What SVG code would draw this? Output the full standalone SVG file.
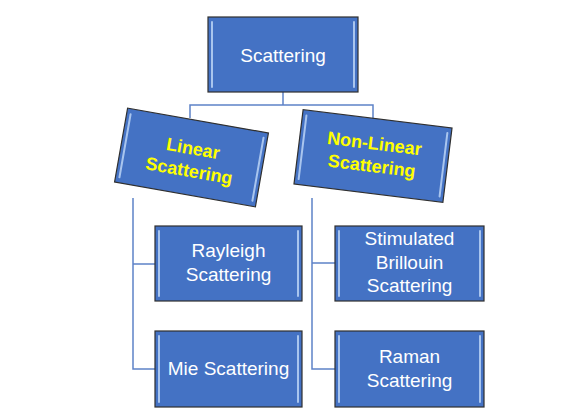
<svg xmlns="http://www.w3.org/2000/svg" width="587" height="417" viewBox="0 0 587 417">
<style>
.box{fill:#4472C4;stroke:#2F2F2F;stroke-width:1.2}
.hl{stroke:#A9C5EE;stroke-width:2;stroke-linecap:round;fill:none}
.t{font-family:"Liberation Sans","Open Sans",sans-serif;font-size:19px;fill:#FFFFFF;text-anchor:middle}
.y{font-family:"Liberation Sans","Open Sans",sans-serif;font-size:18px;font-weight:bold;fill:#FFFF00;text-anchor:middle}
.c{stroke:#5E82C8;stroke-width:1.5;fill:none}
</style>
<rect width="587" height="417" fill="#FFFFFF"/>
<g id="connectors">
<path class="c" d="M283,92 V105 M190,118 V105 H373 V120"/>
<path class="c" d="M133,198 V369 H155 M133,264 H155"/>
<path class="c" d="M312,198 V369 H335 M312,263 H335"/>
</g>
<g id="n-scattering">
<rect class="box" x="208" y="17" width="150" height="75"/>
<path class="hl" d="M212,22 V87 M354,22 V87"/>
<text class="t" x="283" y="62">Scattering</text>
</g>
<g id="n-linear" transform="translate(191.5,157.5) rotate(10)">
<rect class="box" x="-71.5" y="-37.5" width="143" height="75"/>
<path class="hl" d="M-67.5,-32 V32 M67.5,-32 V32"/>
<text class="y" x="0" y="-3">Linear</text>
<text class="y" x="0" y="19.5">Scattering</text>
</g>
<g id="n-nonlinear" transform="translate(373,156) rotate(7)">
<rect class="box" x="-75" y="-37.5" width="150" height="75"/>
<path class="hl" d="M-71,-32 V32 M71,-32 V32"/>
<text class="y" x="0" y="-6.5">Non-Linear</text>
<text class="y" x="0" y="16">Scattering</text>
</g>
<g id="n-rayleigh">
<rect class="box" x="155" y="226" width="147" height="75"/>
<path class="hl" d="M159,231 V296 M298,231 V296"/>
<text class="t" x="228.5" y="257">Rayleigh</text>
<text class="t" x="228.5" y="280.5">Scattering</text>
</g>
<g id="n-mie">
<rect class="box" x="155" y="331" width="147" height="76"/>
<path class="hl" d="M159,336 V402 M298,336 V402"/>
<text class="t" x="228.5" y="375">Mie Scattering</text>
</g>
<g id="n-brillouin">
<rect class="box" x="335" y="226" width="149" height="75"/>
<path class="hl" d="M339,231 V296 M480,231 V296"/>
<text class="t" x="409.5" y="245">Stimulated</text>
<text class="t" x="409.5" y="268.5">Brillouin</text>
<text class="t" x="409.5" y="292">Scattering</text>
</g>
<g id="n-raman">
<rect class="box" x="335" y="331" width="149" height="76"/>
<path class="hl" d="M339,336 V402 M480,336 V402"/>
<text class="t" x="409.5" y="363">Raman</text>
<text class="t" x="409.5" y="387">Scattering</text>
</g>
</svg>
